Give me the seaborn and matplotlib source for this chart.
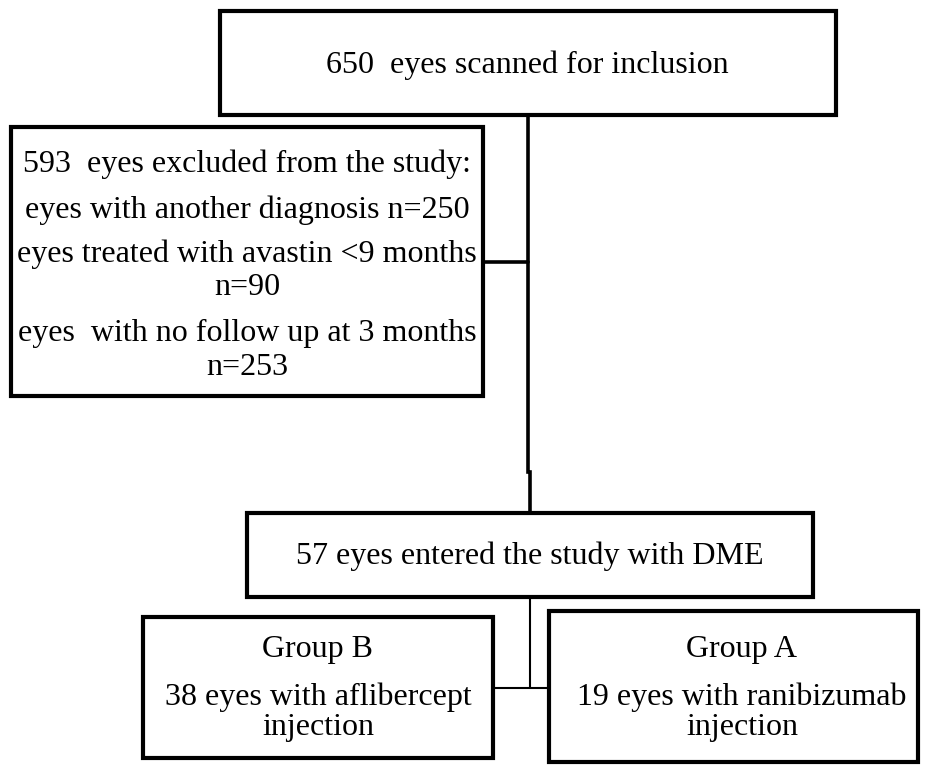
import matplotlib.pyplot as plt
from matplotlib.patches import Rectangle
import seaborn as sns

# box texts of the flow chart, one list per box
screened_text = ["650  eyes scanned for inclusion"]
excluded_text = [
    "593  eyes excluded from the study:",
    "eyes with another diagnosis n=250",
    "eyes treated with avastin <9 months",
    "n=90",
    "eyes  with no follow up at 3 months",
    "n=253",
]
entered_text = ["57 eyes entered the study with DME"]
group_b_text = ["Group B", "38 eyes with aflibercept", "injection"]
group_a_text = ["Group A", "19 eyes with ranibizumab", "injection"]

sns.set_theme(style="white")
plt.rcParams["font.family"] = ["Liberation Serif", "DejaVu Serif"]

fig = plt.figure(figsize=(9.27, 7.65), dpi=100)
ax = fig.add_axes([0, 0, 1, 1])
ax.set_xlim(0, 927)
ax.set_ylim(765, 0)
ax.axis("off")

FS = 23
BOX_LW = 3.0


def box(x0, y0, x1, y1, lw=BOX_LW):
    ax.add_patch(Rectangle((x0, y0), x1 - x0, y1 - y0, fill=False,
                           edgecolor="black", linewidth=lw, joinstyle="miter"))


def lines(cx, ys, texts):
    for y, t in zip(ys, texts):
        ax.text(cx, y, t, ha="center", va="center", fontsize=FS, color="black")


# boxes
box(220, 11, 836, 115)
box(11, 127, 483, 396)
box(247, 513, 813, 597)
box(143, 617, 493, 758)
box(549, 611, 918, 762)

# connectors
ax.plot([528, 528, 530, 530], [115, 472, 472, 513], color="black", lw=2.6,
        solid_joinstyle="miter")
ax.plot([483, 528], [262, 262], color="black", lw=2.6)
ax.plot([530, 530], [597, 688], color="black", lw=1.5)
ax.plot([493, 549], [688, 688], color="black", lw=1.5)

# texts
lines(527, [65], screened_text)
lines(247, [164, 210, 254, 287, 333, 367], excluded_text)
lines(530, [556], entered_text)
lines(318, [650, 697, 727], group_b_text)
lines(742, [650, 697, 727], group_a_text)

fig.savefig("out.png", dpi=100)
